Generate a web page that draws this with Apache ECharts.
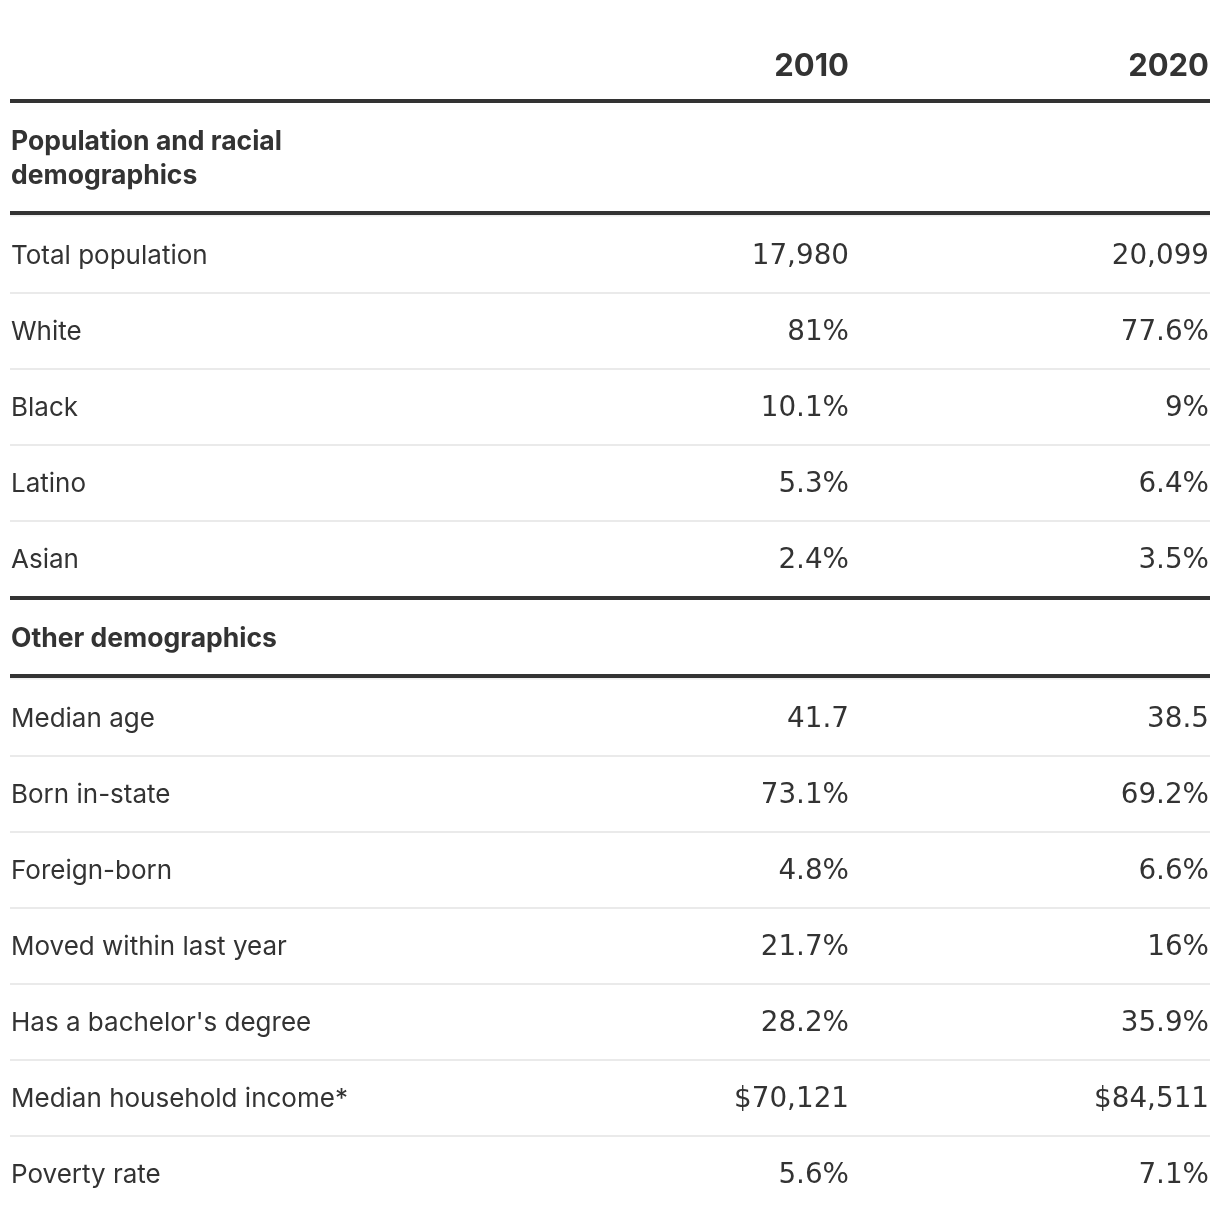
<!DOCTYPE html>
<html>
<head>
<meta charset="utf-8">
<script src="https://cdn.jsdelivr.net/npm/echarts@6/dist/echarts.min.js"></script>
<style>
html,body{margin:0;padding:0;background:#fff;}
#chart{width:1220px;height:1220px;}
</style>
</head>
<body>
<div id="chart"></div>
<script>
// ---- data ----
var columnYears = ['2010', '2020'];
var sectionTitles = ['Population and racial\ndemographics', 'Other demographics'];
var section1Labels = ['Total population', 'White', 'Black', 'Latino', 'Asian'];
var section1Values2010 = [17980, 81, 10.1, 5.3, 2.4];
var section1Values2020 = [20099, 77.6, 9, 6.4, 3.5];
var section1Formats = ['count', 'pct', 'pct', 'pct', 'pct'];
var section2Labels = ['Median age', 'Born in-state', 'Foreign-born', 'Moved within last year', "Has a bachelor's degree", 'Median household income*', 'Poverty rate'];
var section2Values2010 = [41.7, 73.1, 4.8, 21.7, 28.2, 70121, 5.6];
var section2Values2020 = [38.5, 69.2, 6.6, 16, 35.9, 84511, 7.1];
var section2Formats = ['num', 'pct', 'pct', 'pct', 'pct', 'usd', 'pct'];

function fmt(v, f) {
  var s = v.toLocaleString('en-US');
  if (f === 'pct') return s + '%';
  if (f === 'usd') return '$' + s;
  return s;
}

// ---- build table rows ----
var rows = [];
rows.push({kind: 'header', label: '', a: columnYears[0], b: columnYears[1]});
var sections = [
  {title: sectionTitles[0], labels: section1Labels, v1: section1Values2010, v2: section1Values2020, f: section1Formats},
  {title: sectionTitles[1], labels: section2Labels, v1: section2Values2010, v2: section2Values2020, f: section2Formats}
];
sections.forEach(function (s) {
  rows.push({kind: 'section', label: s.title, a: '', b: ''});
  s.labels.forEach(function (l, i) {
    rows.push({kind: 'row', label: l, a: fmt(s.v1[i], s.f[i]), b: fmt(s.v2[i], s.f[i]), first: i === 0});
  });
});

// ---- layout (in pixel-like units of the hidden axes) ----
var LEFT = 10, RIGHT = 1210, COL1 = 849, COL2 = 1209;
var y = 65;
rows.forEach(function (r, idx) {
  if (r.kind === 'header') {
    r.ty = 65;
    r.bottomThick = r.ty + 36;
    y = r.bottomThick;
  } else if (r.kind === 'section') {
    var nLines = r.label.split('\n').length;
    r.ty = y + 40;
    r.lastLine = r.ty + (nLines - 1) * 34;
    r.topThick = idx > 1 ? y : null;
    r.bottomThick = r.lastLine + 38;
    y = r.bottomThick;
  } else {
    if (r.first) {
      r.ty = y + 42;
    } else {
      r.ty = y + 76;
      r.topLine = r.ty - 38;
    }
    y = r.ty;
    var next = rows[idx + 1];
    if (!next || next.kind === 'section') {
      y = r.ty + 39;
    }
  }
});

var chart = echarts.init(document.getElementById('chart'), null, {renderer: 'canvas'});
var LABEL_FONT = 'Inter, "Noto Sans", sans-serif';
var NUM_FONT = '"DejaVu Sans", Inter, sans-serif';
var TXT = '#333333';

function renderItem(params, api) {
  var r = rows[api.value(0)];
  var children = [];
  function hline(yy, h, color) {
    var p1 = api.coord([LEFT, yy]);
    var p2 = api.coord([RIGHT, yy]);
    children.push({type: 'rect', shape: {x: p1[0], y: p1[1] - h / 2, width: p2[0] - p1[0], height: h}, style: {fill: color}});
  }
  function text(x, yy, str, align, weight, size, family) {
    var p = api.coord([x, yy]);
    children.push({type: 'text', x: p[0], y: p[1], style: {text: str, fill: TXT, font: weight + ' ' + size + 'px ' + family, align: align, verticalAlign: 'middle'}});
  }
  if (r.kind === 'header') {
    text(COL1, r.ty + 2, r.a, 'right', 700, 31, LABEL_FONT);
    text(COL2, r.ty + 2, r.b, 'right', 700, 31, LABEL_FONT);
    hline(r.bottomThick, 4, '#333333');
  } else if (r.kind === 'section') {
    if (r.topThick !== null) hline(r.topThick, 4, '#333333');
    var lines = r.label.split('\n');
    lines.forEach(function (ln, k) { text(11, r.ty + 1 + k * 34, ln, 'left', 700, 26.5, LABEL_FONT); });
    hline(r.bottomThick + 2.5, 2, '#eeeeee');
    hline(r.bottomThick, 4, '#333333');
  } else {
    if (!r.first) hline(r.topLine, 2, '#eaeaea');
    text(11, r.ty + 1, r.label, 'left', 400, 26, LABEL_FONT);
    text(COL1, r.ty + 2, r.a, 'right', 400, 27.8, NUM_FONT);
    text(COL2, r.ty + 2, r.b, 'right', 400, 27.8, NUM_FONT);
  }
  return {type: 'group', children: children};
}

chart.setOption({
  animation: false,
  backgroundColor: '#ffffff',
  grid: {left: 0, right: 0, top: 0, bottom: 0},
  xAxis: {type: 'value', min: 0, max: 1220, show: false},
  yAxis: {type: 'value', min: 0, max: 1220, inverse: true, show: false},
  series: [{
    type: 'custom',
    renderItem: renderItem,
    data: rows.map(function (r, i) { return [i]; }),
    clip: false
  }]
});
</script>
</body>
</html>
